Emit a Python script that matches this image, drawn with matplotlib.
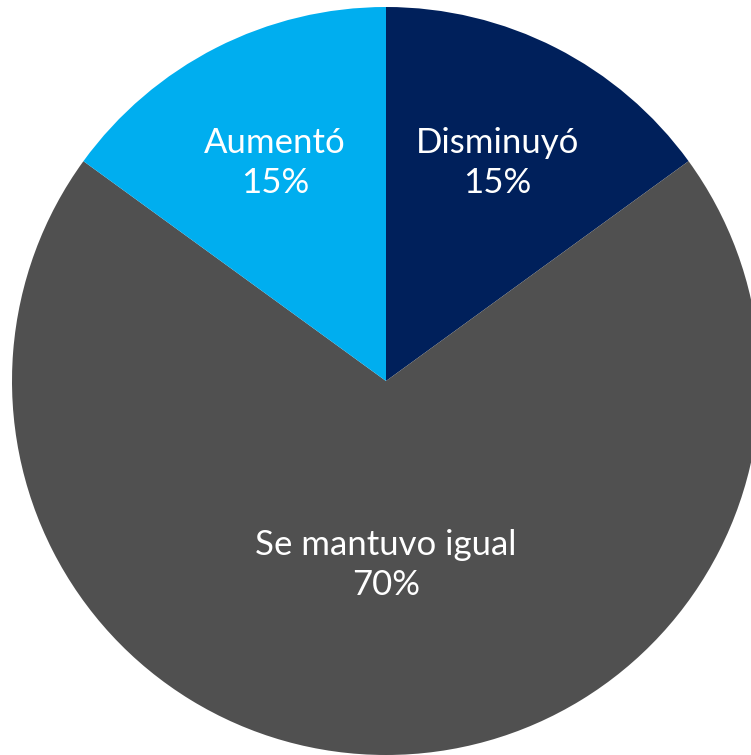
import matplotlib.pyplot as plt

labels = ['Disminuyó', 'Se mantuvo igual', 'Aumentó']
values = [15, 70, 15]
colors = ['#00205B', '#505050', '#00AEEF']

fig = plt.figure(figsize=(7.51, 7.55), dpi=100)
ax = fig.add_axes([0, 0, 1, 1])

r = 374.0
cx, cy = 386.0, 381.0
W, H = 751.0, 755.0

texts = [f'{l}\n{v}%' for l, v in zip(labels, values)]
wedges, txts = ax.pie(values, labels=texts, colors=colors, startangle=90,
                      counterclock=False, radius=1.0, labeldistance=0.655,
                      wedgeprops=dict(linewidth=0),
                      textprops=dict(color='white', fontsize=25, family='Lato',
                                     ha='center', va='center',
                                     linespacing=1.3))

# the big slice's label sits closer to the centre
x, y = txts[1].get_position()
txts[1].set_position((x * 0.75, y * 0.75))

ax.set_xlim(-cx / r, (W - cx) / r)
ax.set_ylim(-(H - cy) / r, cy / r)
ax.set_aspect('equal')
ax.axis('off')

fig.savefig('out.png', dpi=100)
